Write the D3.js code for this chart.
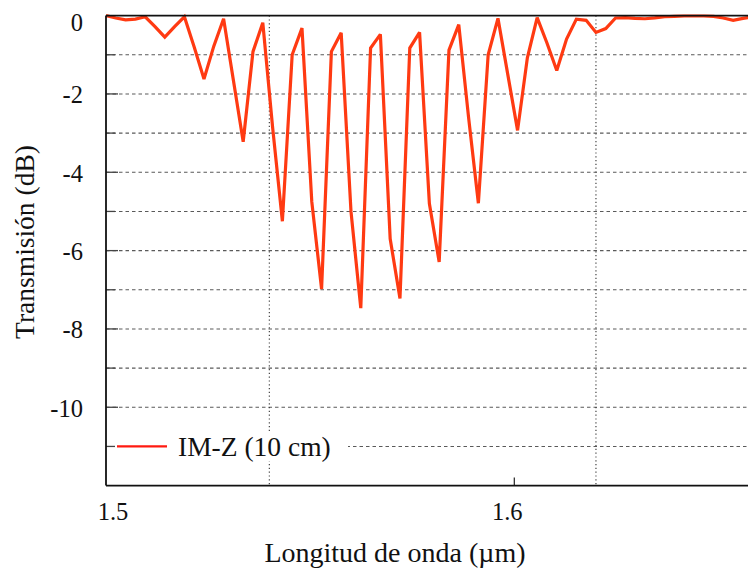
<!DOCTYPE html>
<html>
<head>
<meta charset="utf-8">
<script src="https://cdn.jsdelivr.net/npm/d3@7/dist/d3.min.js"></script>
<style>
  html, body { margin: 0; padding: 0; background: #fff; }
</style>
</head>
<body>
<svg id="chart" width="748" height="570"></svg>
<script>
// Transmission spectrum of the IM-Z filter (10 cm), wavelength in µm, transmission in dB
const wavelength = [
  1.5000, 1.5024, 1.5048, 1.5072, 1.5096, 1.5120, 1.5144, 1.5168, 1.5192, 1.5216,
  1.5240, 1.5264, 1.5288, 1.5312, 1.5336, 1.5360, 1.5384, 1.5408, 1.5432, 1.5456,
  1.5480, 1.5504, 1.5528, 1.5552, 1.5576, 1.5600, 1.5624, 1.5648, 1.5672, 1.5696,
  1.5720, 1.5744, 1.5768, 1.5792, 1.5816, 1.5840, 1.5864, 1.5888, 1.5912, 1.5936,
  1.5960, 1.5984, 1.6008, 1.6032, 1.6056, 1.6080, 1.6104, 1.6128, 1.6152, 1.6176,
  1.6200, 1.6224, 1.6248, 1.6272, 1.6296, 1.6320, 1.6344, 1.6368, 1.6392, 1.6416,
  1.6440, 1.6464, 1.6488, 1.6512, 1.6536, 1.6560, 1.6584
];
const transmissionDb = [
   0.00, -0.06, -0.11, -0.09, -0.03, -0.28, -0.55, -0.28, -0.03, -0.80,
  -1.62, -0.78, -0.08, -1.65, -3.22, -0.92, -0.18, -2.85, -5.25, -1.00,
  -0.32, -4.75, -6.98, -0.92, -0.44, -5.00, -7.47, -0.83, -0.48, -5.70,
  -7.22, -0.83, -0.43, -4.80, -6.29, -0.88, -0.23, -2.60, -4.79, -1.00,
  -0.07, -1.50, -2.93, -1.08, -0.05, -0.70, -1.40, -0.60, -0.09, -0.12,
  -0.43, -0.33, -0.06, -0.05, -0.07, -0.08, -0.06, -0.03, -0.02, -0.01,
  -0.01, -0.01, -0.02, -0.06, -0.12, -0.07, -0.03
];
const seriesName = "IM-Z (10 cm)";
const xTickValues = [1.5, 1.6];
const xTickLabels = ["1.5", "1.6"];
const xGridValues = [1.54, 1.62];
const yTickValues = [0, -2, -4, -6, -8, -10];
const yTickLabels = ["0", "-2", "-4", "-6", "-8", "-10"];
const yGridValues = [-1, -2, -3, -4, -5, -6, -7, -8, -9, -10, -11];
const xTitle = "Longitud de onda (\u00b5m)";
const yTitle = "Transmisi\u00f3n (dB)";

const FONT = "'Liberation Serif', 'Times New Roman', Times, 'DejaVu Serif', serif";

const svg = d3.select("#chart").attr("font-family", FONT);
const W = 748, H = 570;
const plotLeft = 106, plotTop = 15.6, plotBottom = 485.6;

const x = d3.scaleLinear().domain([1.5, 1.7]).range([plotLeft, plotLeft + 816.6]);
const y = d3.scaleLinear().domain([-12, 0]).range([plotBottom, plotTop]);

svg.append("defs").append("clipPath").attr("id", "plotClip")
  .append("rect").attr("x", plotLeft).attr("y", plotTop - 3)
  .attr("width", W - plotLeft).attr("height", plotBottom - plotTop + 3);

const grid = svg.append("g");

// horizontal dashed grid
grid.selectAll("line.hg").data(yGridValues).join("line")
  .attr("x1", plotLeft).attr("x2", W)
  .attr("y1", d => y(d)).attr("y2", d => y(d))
  .attr("stroke", "#5a5a5a").attr("stroke-width", 1.1)
  .attr("stroke-dasharray", "3.5,3");

// vertical dotted grid
grid.selectAll("line.vg").data(xGridValues).join("line")
  .attr("x1", d => x(d)).attr("x2", d => x(d))
  .attr("y1", plotTop).attr("y2", plotBottom)
  .attr("stroke", "#333").attr("stroke-width", 1.1)
  .attr("stroke-dasharray", "1.2,2.6");

// spectrum
const line = d3.line()
  .x((d, i) => x(wavelength[i]))
  .y(d => y(d));

svg.append("g").attr("clip-path", "url(#plotClip)")
  .append("path")
  .attr("d", line(transmissionDb))
  .attr("fill", "none")
  .attr("stroke", "#ff3a12")
  .attr("stroke-width", 3.2)
  .attr("stroke-linejoin", "miter")
  .attr("stroke-miterlimit", 2.5);

// legend
const lg = svg.append("g");
lg.append("rect")
  .attr("x", plotLeft + 8).attr("y", y(-11) - 15)
  .attr("width", 234).attr("height", 30)
  .attr("fill", "#fff");
lg.append("line")
  .attr("x1", plotLeft + 11).attr("x2", plotLeft + 61)
  .attr("y1", y(-11)).attr("y2", y(-11))
  .attr("stroke", "#ff1a10").attr("stroke-width", 2.2);
lg.append("text")
  .attr("x", plotLeft + 72).attr("y", y(-11))
  .attr("dy", "0.34em")
  .attr("font-size", 27.5)
  .attr("fill", "#111")
  .text(seriesName);

// y ticks (inward) at each dB
svg.append("g").selectAll("line").data(d3.range(-11, 0)).join("line")
  .attr("x1", plotLeft).attr("x2", d => plotLeft + (d % 2 === 0 ? 12 : 9))
  .attr("y1", d => y(d)).attr("y2", d => y(d))
  .attr("stroke", "#444").attr("stroke-width", 1.3);

// x tick (inward)
svg.append("g").selectAll("line").data(xTickValues.slice(1)).join("line")
  .attr("x1", d => x(d)).attr("x2", d => x(d))
  .attr("y1", plotBottom).attr("y2", plotBottom - 8)
  .attr("stroke", "#222").attr("stroke-width", 1.2);

// frame
svg.append("line").attr("x1", plotLeft).attr("x2", W).attr("y1", plotTop).attr("y2", plotTop)
  .attr("stroke", "#111").attr("stroke-width", 1.6);
svg.append("line").attr("x1", plotLeft).attr("x2", W).attr("y1", plotBottom).attr("y2", plotBottom)
  .attr("stroke", "#111").attr("stroke-width", 1.8);
svg.append("line").attr("x1", plotLeft).attr("x2", plotLeft).attr("y1", plotTop).attr("y2", plotBottom)
  .attr("stroke", "#111").attr("stroke-width", 1.8);

// y tick labels
svg.append("g").selectAll("text").data(yTickValues).join("text")
  .attr("x", 83)
  .attr("y", d => y(d) + (d === 0 ? 7 : 1))
  .attr("dy", "0.34em")
  .attr("text-anchor", "end")
  .attr("font-size", 24.5)
  .attr("fill", "#111")
  .text((d, i) => yTickLabels[i]);

// x tick labels
const xLabelShift = [7, -7];
svg.append("g").selectAll("text").data(xTickValues).join("text")
  .attr("x", (d, i) => x(d) + xLabelShift[i])
  .attr("y", 512)
  .attr("dy", "0.34em")
  .attr("text-anchor", "middle")
  .attr("font-size", 24.5)
  .attr("fill", "#111")
  .text((d, i) => xTickLabels[i]);

// axis titles
svg.append("text")
  .attr("x", 395).attr("y", 552)
  .attr("dy", "0.34em")
  .attr("text-anchor", "middle")
  .attr("font-size", 28)
  .attr("fill", "#111")
  .text(xTitle);

svg.append("text")
  .attr("transform", "translate(25,242) rotate(-90)")
  .attr("dy", "0.34em")
  .attr("text-anchor", "middle")
  .attr("font-size", 27.5)
  .attr("fill", "#111")
  .text(yTitle);
</script>
</body>
</html>
